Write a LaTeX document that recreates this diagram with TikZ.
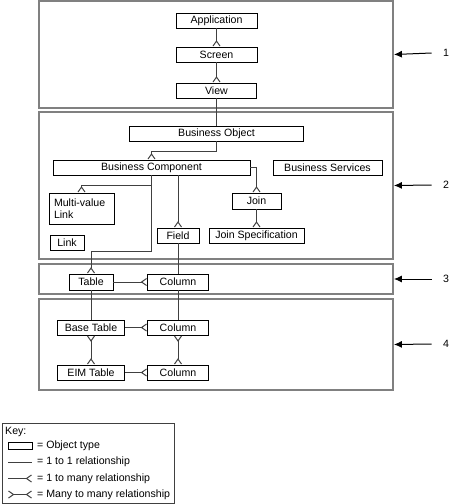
\documentclass[tikz,border=0pt]{standalone}
\usepackage{fontspec}
\setmainfont{Liberation Sans}
\usetikzlibrary{arrows.meta}
\definecolor{framegray}{RGB}{128,128,128}
\definecolor{linegray}{RGB}{64,64,64}
\tikzset{obj/.style={rectangle,draw=black,line width=0.9pt,fill=white,minimum height=15pt,inner sep=0pt},
  frame/.style={rectangle,draw=framegray,line width=1.8pt,inner sep=0pt},
  rel/.style={draw=linegray,line width=1pt},
  crow/.style={rel,-{Straight Barb[reversed,length=5pt,width=7pt]}},
  mm/.style={rel,{Straight Barb[reversed,length=5pt,width=7pt]}-{Straight Barb[reversed,length=5pt,width=7pt]}},
  side/.style={line width=1pt,-{Latex[length=8pt,width=7pt]}}}

\begin{document}
\begin{tikzpicture}[x=1pt,y=-1pt,font=\fontsize{10.6}{12.5}\selectfont]
    \useasboundingbox (0,0) rectangle (462,504);
    % layers
    \node[frame,minimum width=354,minimum height=107] (f1) at (216,54.5) {};
    \node[frame,minimum width=354,minimum height=147] (f2) at (216,185.5) {};
    \node[frame,minimum width=354,minimum height=30] (f3) at (216,279) {};
    \node[frame,minimum width=354,minimum height=91] (f4) at (216,344.5) {};

    \node (n1) at (446,53) {1};
    \node (n2) at (446,185) {2};
    \node (n3) at (446,279) {3};
    \node (n4) at (446,344) {4};
    \draw [side] ([xshift=-8pt]n1.west) to [] (f1.east);
    \draw [side] ([xshift=-8pt]n2.west) to [] (f2.east);
    \draw [side] ([xshift=-8pt]n3.west) to [] (f3.east);
    \draw [side] ([xshift=-8pt]n4.west) to [] (f4.east);

    \node[obj,minimum width=81] (app) at (216.5,20.5) {Application};
    \node[obj,minimum width=81] (scr) at (216.5,54.5) {Screen};
    \node[obj,minimum width=80] (view) at (216.5,90.5) {View};
    \node[obj,minimum width=174] (bo) at (216.5,133.5) {Business Object};
    \node[obj,minimum width=197] (bc) at (151.5,167.5) {Business Component};
    \node[obj,minimum width=109] (bs) at (327.5,167.5) {Business Services};
    \node[obj,minimum width=65,minimum height=31,text width=55,inner xsep=5,align=left] (mvl) at (81.5,208.5) {Multi-value\\Link};
    \node[obj,minimum width=34] (link) at (67,242.5) {Link};
    \node[obj,minimum width=42] (field) at (178,235.5) {Field};
    \node[obj,minimum width=49,minimum height=16] (join) at (256.5,201) {Join};
    \node[obj,minimum width=95] (js) at (256.5,235.5) {Join Specification};

    \node[obj,minimum width=44,minimum height=16] (table) at (91,282) {Table};
    \node[obj,minimum width=61,minimum height=16] (col) at (178,282) {Column};
    \node[obj,minimum width=67] (bt) at (91,327.5) {Base Table};
    \node[obj,minimum width=61] (btcol) at (178,327.5) {Column};
    \node[obj,minimum width=67] (eim) at (91,372.5) {EIM Table};
    \node[obj,minimum width=61] (eimcol) at (178,372.5) {Column};

    \draw [crow] (app) to [] (scr);
    \draw [crow] (scr) to [] (view);
    \draw [rel] (view) to [] (bo);
    \draw [crow] (bo.south) -- ++(0,10) -| (bc.north);
    \draw [crow] (bc.south) -- ++(0,10) -| (mvl.north);
    \draw [crow] (bc.south) -- ++(0,76) -| (table.north);
    \draw [crow] (field.north |- bc.south) to [] (field.north);
    \draw [crow] (bc.east) -| (join.north);
    \draw [crow] (join) to [] (js);
    \draw [rel] (field) to [] (col);
    \draw [rel] (col) to [] (btcol);
    \draw [crow] (table) to [] (col);
    \draw [rel] (table) to [] (bt);
    \draw [crow] (bt) to [] (btcol);
    \draw [mm] (bt) to [] (eim);
    \draw [mm] (btcol) to [] (eimcol);
    \draw [crow] (eim) to [] (eimcol);

    % key
    \node[rectangle,draw=linegray,line width=1pt,minimum width=172,minimum height=80,inner sep=0pt] (key) at (88,463) {};
    \node[anchor=west,inner sep=0pt] (keyt) at (5,432) {Key:};
    \node[obj,minimum width=24,minimum height=7,line width=0.8pt] (ksym) at (20,445.5) {};
    \node[anchor=west,inner sep=0pt] (k1) at (37,445.5) {= Object type};
    \coordinate (a1) at (8,462); \coordinate (b1) at (32,462);
    \node[anchor=west,inner sep=0pt] (k2) at (37,462) {= 1 to 1 relationship};
    \coordinate (a2) at (8,478.5); \coordinate (b2) at (32,478.5);
    \node[anchor=west,inner sep=0pt] (k3) at (37,478.5) {= 1 to many relationship};
    \coordinate (a3) at (8,494.5); \coordinate (b3) at (32,494.5);
    \node[anchor=west,inner sep=0pt] (k4) at (37,494.5) {= Many to many relationship};
    \draw [rel] (a1) to [] (b1);
    \draw [crow] (a2) to [] (b2);
    \draw [mm] (a3) to [] (b3);
\end{tikzpicture}
\end{document}
